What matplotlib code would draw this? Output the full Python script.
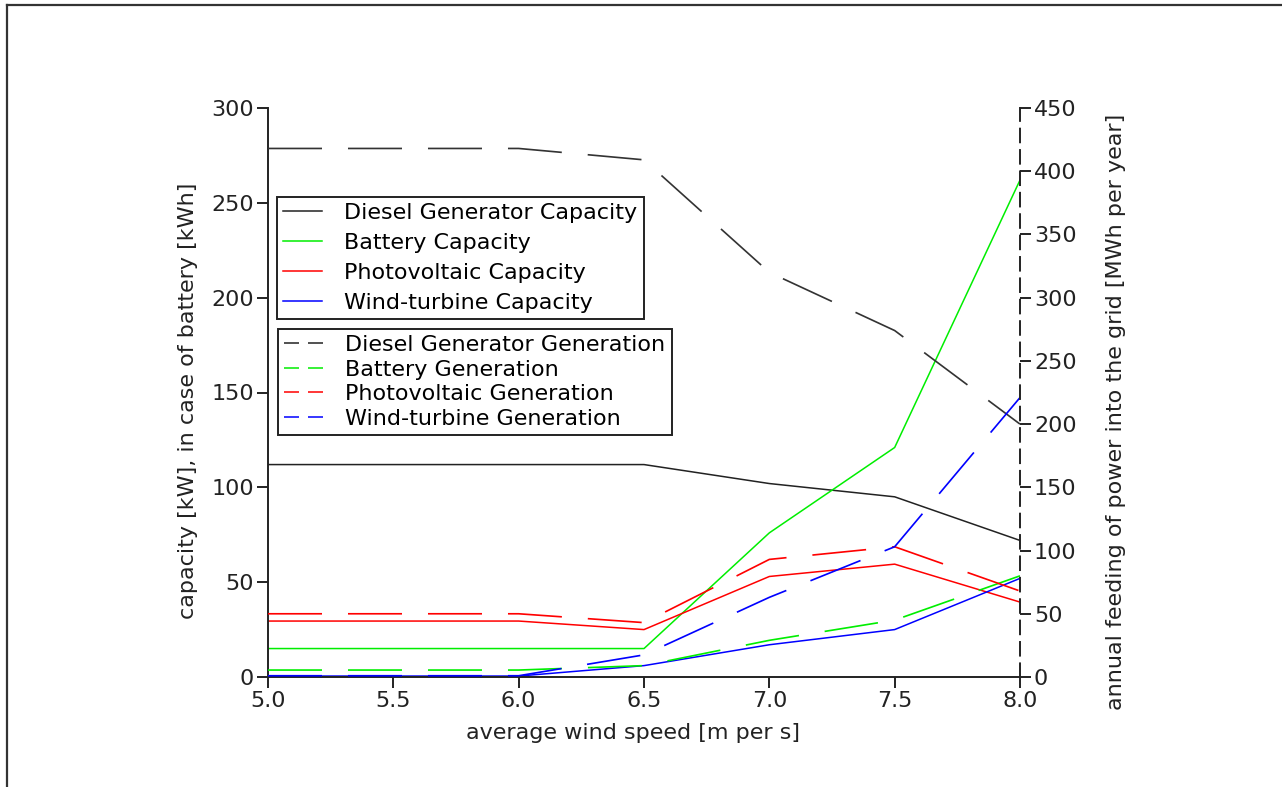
import matplotlib
matplotlib.use("Agg")
import matplotlib.pyplot as plt
from matplotlib.lines import Line2D

plt.rcParams['font.family'] = ['DejaVu Sans']

wind_speed = [5.0, 5.5, 6.0, 6.5, 7.0, 7.5, 8.0]
x_ticks = [5.0, 5.5, 6.0, 6.5, 7.0, 7.5, 8.0]
left_ticks = [0, 50, 100, 150, 200, 250, 300]
right_ticks = [0, 50, 100, 150, 200, 250, 300, 350, 400, 450]

# capacities (left axis, kW / kWh)
diesel_cap = [112, 112, 112, 112, 102, 95, 72]
battery_cap = [15, 15, 15, 15, 76, 121, 262]
pv_cap = [29.5, 29.5, 29.5, 25, 53, 59.5, 39.5]
wind_cap = [0.5, 0.5, 0.5, 6, 17, 25, 52]

# generation (right axis, MWh per year)
diesel_gen = [418, 418, 418, 409, 320, 274, 200]
battery_gen = [5.5, 5.5, 5.5, 9, 29, 45, 80]
pv_gen = [50, 50, 50, 43, 93, 103, 68]
wind_gen = [1, 1, 1, 17.5, 63, 103, 221]

cap_labels = ['Diesel Generator Capacity', 'Battery Capacity',
              'Photovoltaic Capacity', 'Wind-turbine Capacity']
gen_labels = ['Diesel Generator Generation', 'Battery Generation',
              'Photovoltaic Generation', 'Wind-turbine Generation']
colors = ['#222222', '#00ee00', '#ff0000', '#0000ff']

W, H = 1282, 787
fig = plt.figure(figsize=(W / 100, H / 100), dpi=100)
# figure frame (left and top edges visible)
fig.add_artist(Line2D([7 / W, 7 / W], [0, 1 - 5 / H], transform=fig.transFigure,
                      color='#333333', lw=1.6))
fig.add_artist(Line2D([7 / W, 1], [1 - 5 / H, 1 - 5 / H], transform=fig.transFigure,
                      color='#333333', lw=1.6))

ax = fig.add_axes([268 / W, 1 - 677 / H, (1020 - 268) / W, (677 - 108) / H])
ax2 = ax.twinx()

lw = 1.1
cap_series = [diesel_cap, battery_cap, pv_cap, wind_cap]
gen_series = [diesel_gen, battery_gen, pv_gen, wind_gen]
cap_handles = []
for ys, c, lab in zip(cap_series, colors, cap_labels):
    h, = ax.plot(wind_speed, ys, color=c, lw=lw, label=lab)
    cap_handles.append(h)
glw = lw * 1.1
gen_dash = (0, (54 / 1.389 / glw, 26 / 1.389 / glw))
gen_colors = ['#333333'] + colors[1:]
for ys, c, lab in zip(gen_series, gen_colors, gen_labels):
    ax2.plot(wind_speed, ys, color=c, lw=glw, linestyle=gen_dash, label=lab)

ax.set_xlim(5.0, 8.0)
ax.set_ylim(0, 300)
ax2.set_ylim(0, 450)
ax.set_xticks(x_ticks)
ax.set_xticklabels([f'{v:.1f}' for v in x_ticks])
ax.set_yticks(left_ticks)
ax2.set_yticks(right_ticks)

fs = 16
for a in (ax, ax2):
    a.spines['top'].set_visible(False)
    for s in a.spines.values():
        s.set_linewidth(1.4)
        s.set_color('#222222')
    a.tick_params(direction='out', length=8, width=1.4, colors='#222222',
                  labelsize=fs, labelcolor='#222222', pad=2)
ax.spines['right'].set_visible(False)
ax2.spines['left'].set_visible(False)
ax2.spines['bottom'].set_visible(False)
ax2.spines['right'].set_linestyle((0, (7, 4)))

ax.set_xlabel('average wind speed [m per s]', fontsize=fs, color='#222222', va='center')
ax.xaxis.set_label_coords((633 - 268) / 752, (677 - 733) / 569)
ax.set_ylabel('capacity [kW], in case of battery [kWh]', fontsize=fs, color='#222222',
              va='center')
ax.yaxis.set_label_coords((188 - 268) / 752, (677 - 401) / 569)
ax2.set_ylabel('annual feeding of power into the grid [MWh per year]', fontsize=fs,
               color='#222222', va='center')
ax2.yaxis.set_label_coords((1116 - 268) / 752, (677 - 412) / 569)

leg_dash = (0, (15 / 1.389 / lw, 9 / 1.389 / lw))
gen_handles = [Line2D([0], [0], color=c, lw=lw, linestyle=leg_dash) for c in colors]

leg_kw = dict(fontsize=fs, frameon=True, fancybox=False, framealpha=1,
              edgecolor='#222222', handlelength=1.75, handletextpad=1.0,
              borderpad=0.28, borderaxespad=0, loc='upper left',
              bbox_transform=fig.transFigure)
leg1 = ax2.legend(cap_handles, cap_labels, bbox_to_anchor=(277 / W, 1 - 197 / H),
                  labelspacing=0.44, **leg_kw)
leg1.get_frame().set_linewidth(1.4)
ax2.add_artist(leg1)
leg2 = ax2.legend(gen_handles, gen_labels, bbox_to_anchor=(278 / W, 1 - 329 / H),
                  labelspacing=0.2, **leg_kw)
leg2.get_frame().set_linewidth(1.4)

fig.savefig('out.png', dpi=100)
